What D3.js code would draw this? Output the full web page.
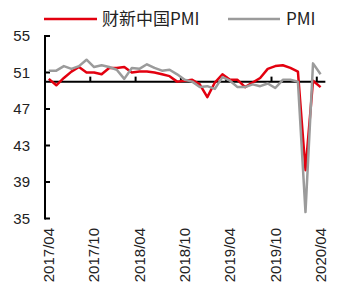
<!DOCTYPE html>
<html><head><meta charset="utf-8">
<script src="https://cdn.jsdelivr.net/npm/d3@7/dist/d3.min.js"></script>
<style>body{margin:0;background:#fff}svg{display:block}</style>
</head><body>
<svg id="c" width="338" height="294"></svg>
<script>
const months = [
 "2017/04","2017/05","2017/06","2017/07","2017/08","2017/09","2017/10","2017/11","2017/12",
 "2018/01","2018/02","2018/03","2018/04","2018/05","2018/06","2018/07","2018/08","2018/09","2018/10","2018/11","2018/12",
 "2019/01","2019/02","2019/03","2019/04","2019/05","2019/06","2019/07","2019/08","2019/09","2019/10","2019/11","2019/12",
 "2020/01","2020/02","2020/03","2020/04"];
const caixin = [50.3,49.6,50.4,51.1,51.6,51.0,51.0,50.8,51.5,
 51.5,51.6,51.0,51.1,51.1,51.0,50.8,50.6,50.0,50.1,50.2,49.7,
 48.3,49.9,50.8,50.2,50.2,49.4,49.9,50.4,51.4,51.7,51.8,51.5,
 51.1,40.3,50.1,49.4];
const pmi = [51.2,51.2,51.7,51.4,51.7,52.4,51.6,51.8,51.6,
 51.3,50.3,51.5,51.4,51.9,51.5,51.2,51.3,50.8,50.2,50.0,49.4,
 49.5,49.2,50.5,50.1,49.4,49.4,49.7,49.5,49.8,49.3,50.2,50.2,
 50.0,35.7,52.0,50.8];
const yTicks = [35,39,43,47,51,55];
const xLabels = ["2017/04","2017/10","2018/04","2018/10","2019/04","2019/10","2020/04"];
const seriesNames = ["财新中国PMI","PMI"];
const colors = ["#e3000f","#9b9b9b"];

const svg = d3.select("#c");
const x = d3.scaleBand().domain(months).range([45, 45 + months.length * 7.55]).padding(0);
const y = d3.scaleLinear().domain([35, 55]).range([218.5, 36]);
const cx = m => x(m) + x.bandwidth() / 2;

// y axis
const yAxis = svg.append("g");
yAxis.append("line").attr("x1", 45).attr("x2", 45).attr("y1", y(55) - 1).attr("y2", y(35) + 1)
  .attr("stroke", "#000").attr("stroke-width", 2);
yAxis.selectAll("line.t").data(yTicks).join("line").attr("class","t")
  .attr("x1", 45).attr("x2", 50).attr("y1", d => y(d)).attr("y2", d => y(d))
  .attr("stroke", "#000").attr("stroke-width", 2);
yAxis.selectAll("text").data(yTicks).join("text")
  .attr("x", 30).attr("y", d => y(d)).attr("dy", "0.35em").attr("text-anchor", "end")
  .attr("font-family", "Liberation Sans, Arial, sans-serif").attr("font-size", 15).attr("fill", "#222")
  .text(d => d);

// x axis at 50
const y50 = y(50);
svg.append("line").attr("x1", 45).attr("x2", x.range()[1] + 1).attr("y1", y50).attr("y2", y50)
  .attr("stroke", "#000").attr("stroke-width", 2);
svg.selectAll("line.xt").data(xLabels.slice(1)).join("line").attr("class","xt")
  .attr("x1", d => x(d)).attr("x2", d => x(d)).attr("y1", y50).attr("y2", y50 - 5)
  .attr("stroke", "#000").attr("stroke-width", 2);
svg.selectAll("text.xl").data(xLabels).join("text").attr("class","xl")
  .attr("transform", d => `translate(${cx(d)},228) rotate(-90)`)
  .attr("dy", "0.35em").attr("text-anchor", "end")
  .attr("font-family", "Liberation Sans, Arial, sans-serif").attr("font-size", 15).attr("fill", "#222")
  .text(d => d);

// lines
const line = d3.line().x((d, i) => cx(months[i])).y(d => y(d));
[caixin, pmi].forEach((s, k) => {
  svg.append("path").datum(s).attr("d", line).attr("fill", "none")
    .attr("stroke", colors[k]).attr("stroke-width", 2.5).attr("stroke-linejoin", "round");
});

// legend
const leg = [{x1: 44, x2: 97, tx: 102}, {x1: 228, x2: 280, tx: 286}];
seriesNames.forEach((n, k) => {
  svg.append("line").attr("x1", leg[k].x1).attr("x2", leg[k].x2).attr("y1", 19).attr("y2", 19)
    .attr("stroke", colors[k]).attr("stroke-width", 2.5);
  svg.append("text").attr("x", leg[k].tx).attr("y", 19).attr("dy", "0.35em")
    .attr("font-family", "Noto Sans CJK SC, sans-serif").attr("font-size", 17).attr("fill", "#222")
    .text(n);
});
</script>
</body></html>
